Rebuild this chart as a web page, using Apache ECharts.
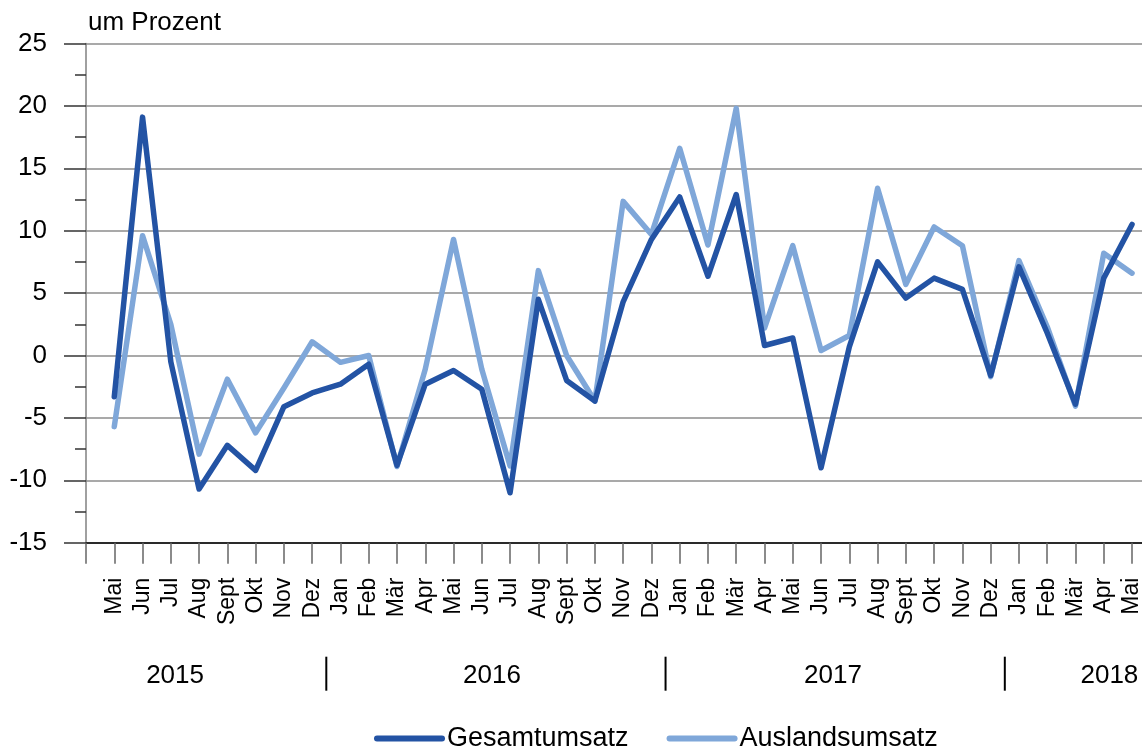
<!DOCTYPE html>
<html>
<head>
<meta charset="utf-8">
<script src="https://cdn.jsdelivr.net/npm/echarts@6/dist/echarts.min.js"></script>
<style>
html,body{margin:0;padding:0;background:#fff;}
#chart{width:1142px;height:754px;}
</style>
</head>
<body>
<div id="chart"></div>
<script>
// ---- data ----
const months = ['Mai','Jun','Jul','Aug','Sept','Okt','Nov','Dez',
  'Jan','Feb','Mär','Apr','Mai','Jun','Jul','Aug','Sept','Okt','Nov','Dez',
  'Jan','Feb','Mär','Apr','Mai','Jun','Jul','Aug','Sept','Okt','Nov','Dez',
  'Jan','Feb','Mär','Apr','Mai'];
const gesamtumsatz = [-3.3, 19.1, -0.5, -10.7, -7.2, -9.2, -4.1, -3.0,
  -2.3, -0.7, -8.8, -2.3, -1.2, -2.7, -11.0, 4.5, -2.0, -3.65, 4.3, 9.3,
  12.7, 6.35, 12.9, 0.8, 1.4, -9.0, 0.7, 7.5, 4.6, 6.2, 5.3, -1.6,
  7.1, 1.8, -3.9, 6.2, 10.5];
const auslandsumsatz = [-5.7, 9.6, 2.5, -7.9, -1.9, -6.2, -2.6, 1.1,
  -0.55, 0.0, -8.9, -1.1, 9.3, -1.1, -8.85, 6.8, 0.0, -3.65, 12.35, 9.7,
  16.6, 8.85, 19.8, 2.2, 8.8, 0.4, 1.6, 13.4, 5.7, 10.3, 8.8, -1.7,
  7.6, 2.3, -4.05, 8.2, 6.6];
const years = ['2015', '2016', '2017', '2018'];
const yearLabelPos = [3.15, 14.36, 26.42, 36.2];   // in category index units (padded axis)
const yearSeparatorPos = [8.5, 20.5, 32.5];
const seriesNames = ['Gesamtumsatz', 'Auslandsumsatz'];
const yAxisTitle = 'um Prozent';

// axis padded with an empty slot before and after
const categories = [''].concat(months, ['']);
const pad = arr => [null].concat(arr, [null]);

const FONT = '"Liberation Sans", Arial, sans-serif';
const DARK = '#2353a4';
const LIGHT = '#7fa7d9';

const chart = echarts.init(document.getElementById('chart'), null, {renderer: 'canvas'});

const option = {
  backgroundColor: '#ffffff',
  animation: false,
  textStyle: {fontFamily: FONT},
  title: {
    text: yAxisTitle,
    left: 88, top: 10, padding: 0,
    textStyle: {fontSize: 26, fontWeight: 'normal', color: '#000', fontFamily: FONT}
  },
  legend: {
    data: seriesNames,
    left: 374, top: 725, padding: 0,
    itemWidth: 65, itemHeight: 14, itemGap: 38,
    itemStyle: {opacity: 0},
    lineStyle: {width: 6, cap: 'round'},
    textStyle: {fontSize: 27, color: '#000', fontFamily: FONT}
  },
  grid: {
    left: 86, top: 43.5, right: -18.3, bottom: 211.3,
    containLabel: false,
    outerBoundsMode: 'none'
  },
  xAxis: {
    type: 'category',
    data: categories,
    boundaryGap: false,
    axisLine: {show: true, onZero: false, lineStyle: {color: '#000', width: 1.5}},
    axisTick: {show: true, interval: 0, length: 21, lineStyle: {color: '#666', width: 1.5}},
    axisLabel: {
      interval: 0, rotate: 90, margin: 35, fontSize: 23, color: '#000',
      fontFamily: FONT, hideOverlap: false
    },
    splitLine: {show: false}
  },
  yAxis: {
    type: 'value',
    min: -15, max: 25, interval: 5,
    axisLine: {show: true, lineStyle: {color: '#808080', width: 1.5}},
    axisTick: {show: true, length: 22, lineStyle: {color: '#333', width: 1.5}},
    minorTick: {show: true, splitNumber: 2, length: 11, lineStyle: {color: '#333', width: 1.5}},
    axisLabel: {margin: 39, fontSize: 26, color: '#000', fontFamily: FONT},
    splitLine: {show: true, lineStyle: {color: '#8c8c8c', width: 1.5}}
  },
  series: [
    {
      name: seriesNames[0], type: 'line', data: pad(gesamtumsatz),
      symbol: 'none', connectNulls: false,
      lineStyle: {color: DARK, width: 5.5, cap: 'round', join: 'round'},
      itemStyle: {color: DARK}, z: 3
    },
    {
      name: seriesNames[1], type: 'line', data: pad(auslandsumsatz),
      symbol: 'none', connectNulls: false,
      lineStyle: {color: LIGHT, width: 5.5, cap: 'round', join: 'round'},
      itemStyle: {color: LIGHT}, z: 2
    }
  ]
};
chart.setOption(option);

// year labels and separators below the month labels
function xAt(idx) {
  const p0 = chart.convertToPixel({gridIndex: 0}, [0, 0]);
  const p1 = chart.convertToPixel({gridIndex: 0}, [1, 0]);
  return p0[0] + idx * (p1[0] - p0[0]);
}
const axisY = chart.convertToPixel({gridIndex: 0}, [0, -15])[1];
const graphics = [];
years.forEach((y, i) => {
  graphics.push({
    type: 'text', x: xAt(yearLabelPos[i]), y: axisY + 133,
    style: {text: y, fontSize: 26, fontFamily: FONT, fill: '#000', align: 'center', verticalAlign: 'middle'}
  });
});
yearSeparatorPos.forEach(p => {
  const x = xAt(p);
  graphics.push({
    type: 'line', shape: {x1: x, y1: axisY + 114, x2: x, y2: axisY + 148},
    style: {stroke: '#000', lineWidth: 2}
  });
});
chart.setOption({graphic: graphics});
</script>
</body>
</html>
